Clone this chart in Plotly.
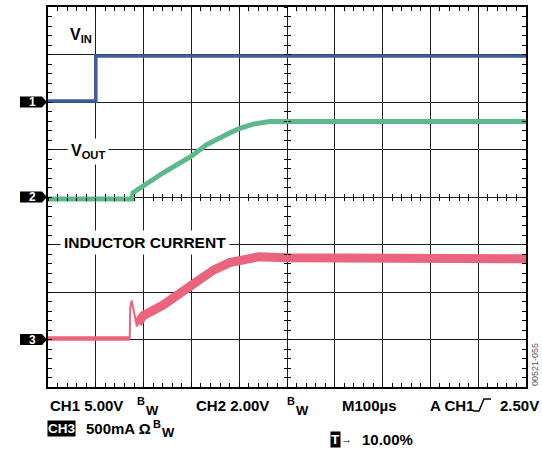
import plotly.graph_objects as go

# scope settings: 100 us/div, trigger at 10 % -> t = 0 one division from the left
t_range = [-100, 900]

# CH1, V_IN (5 V/div, ground marker at division 6)
t_vin = [-100, 0, 0, 900]
v_vin = [0.1, 0.1, 4.85, 4.85]

# CH2, V_OUT (2 V/div, ground marker at division 4)
t_vout = [-100, 75, 78, 99, 141, 200, 232, 280, 300, 329, 364, 900]
v_vout = [-0.08, -0.08, 0.18, 0.46, 1.02, 1.72, 2.21, 2.69, 2.88, 3.07, 3.18, 3.18]

# CH3, inductor current (500 mA/div, ground marker at division 1)
t_il_base = [-100, 71]
i_il_base = [0.01, 0.01]
t_il_spike = [71, 72, 75, 86, 90]
i_il_spike = [0.01, 0.33, 0.41, 0.14, 0.18]
t_il_ramp = [88, 99, 140, 197, 246, 280, 310, 340, 400, 900]
i_il_ramp = [0.17, 0.25, 0.36, 0.56, 0.73, 0.81, 0.85, 0.87, 0.86, 0.85]

BLUE = "#3c5e9c"
GREEN = "#5db98c"
RED = "#e9647c"
FONT = "Liberation Sans, Arial, sans-serif"
PLOT_W, PLOT_H = 478, 382  # graticule size in px

fig = go.Figure()
fig.add_trace(go.Scatter(x=t_vin, y=v_vin, mode="lines", xaxis="x", yaxis="y2",
                         line=dict(color=BLUE, width=3.5), hoverinfo="skip"))
fig.add_trace(go.Scatter(x=t_vout, y=v_vout, mode="lines", xaxis="x2", yaxis="y3",
                         line=dict(color=GREEN, width=5), hoverinfo="skip"))
fig.add_trace(go.Scatter(x=t_il_base, y=i_il_base, mode="lines", xaxis="x3", yaxis="y4",
                         line=dict(color=RED, width=4.5), hoverinfo="skip"))
fig.add_trace(go.Scatter(x=t_il_spike, y=i_il_spike, mode="lines", xaxis="x3", yaxis="y4",
                         line=dict(color=RED, width=2), hoverinfo="skip"))
fig.add_trace(go.Scatter(x=t_il_ramp, y=i_il_ramp, mode="lines", xaxis="x3", yaxis="y4",
                         line=dict(color=RED, width=9), hoverinfo="skip"))

grid = dict(showgrid=True, gridcolor="#1e1e1e", gridwidth=1.3, zeroline=False,
            showline=True, linecolor="black", linewidth=2, mirror="allticks",
            ticks="inside", ticklen=4, tickcolor="black", tickwidth=1.2,
            showticklabels=False, fixedrange=True)
center = dict(showgrid=False, zeroline=False, showline=False, showticklabels=False,
              anchor="free", position=0.5, ticklen=3, tickcolor="black",
              tickwidth=1.2, fixedrange=True)

ch_ranges = {"y2": [-30, 10], "y3": [-8, 8], "y4": [-0.5, 3.5]}

fig.update_layout(
    width=542, height=450,
    margin=dict(l=48, r=16, t=5, b=63),
    paper_bgcolor="white", plot_bgcolor="white",
    showlegend=False,
    font=dict(family=FONT, color="black"),
    xaxis=dict(range=t_range, tick0=0, dtick=100,
               minor=dict(dtick=20, ticks="inside", ticklen=4, tickcolor="black",
                          tickwidth=1.2, showgrid=False), **grid),
    yaxis=dict(range=[0, 8], tick0=0, dtick=1,
               minor=dict(dtick=0.2, ticks="inside", ticklen=4, tickcolor="black",
                          tickwidth=1.2, showgrid=False), **grid),
    xaxis2=dict(overlaying="x", range=t_range, tick0=0, dtick=20, ticks="outside", **center),
    xaxis3=dict(overlaying="x", range=t_range, tick0=0, dtick=20, ticks="inside", **center),
    yaxis2=dict(overlaying="y", range=ch_ranges["y2"], tick0=0, dtick=1, ticks="outside", **center),
    yaxis3=dict(overlaying="y", range=ch_ranges["y3"], tick0=0, dtick=0.4, ticks="inside", **center),
    yaxis4=dict(overlaying="y", range=ch_ranges["y4"], showgrid=False, zeroline=False,
                showticklabels=False, ticks="", fixedrange=True),
)

# channel ground markers (pentagon pointing at the graticule, at each channel's 0 level)
px_x = 1 / PLOT_W
px_y = 1 / PLOT_H
for ch, yref in (("1", "y2"), ("2", "y3"), ("3", "y4")):
    lo, hi = ch_ranges[yref]
    g = (0 - lo) / (hi - lo)
    top, bot = g + 5.5 * px_y, g - 5.5 * px_y
    fig.add_shape(type="path", xref="paper", yref="paper",
                  path=(f"M{-28 * px_x},{top} L{-6 * px_x},{top} L{-1 * px_x},{g} "
                        f"L{-6 * px_x},{bot} L{-28 * px_x},{bot} Z"),
                  fillcolor="black", line=dict(width=0))
    fig.add_annotation(x=0, y=g, xref="paper", yref="paper", xanchor="center", yanchor="middle",
                       xshift=-16, text="<b>" + ch + "</b>", showarrow=False,
                       font=dict(size=12, color="white", family=FONT))

# trace labels
fig.add_annotation(x=-31, y=7.41, xref="x", yref="y", text="<b>V<sub>IN</sub></b>",
                   showarrow=False, font=dict(size=16))
fig.add_annotation(x=-16, y=4.96, xref="x", yref="y", text="<b>V<sub>OUT</sub></b>",
                   showarrow=False, font=dict(size=16), bgcolor="white", borderpad=3)
fig.add_annotation(x=102, y=3.04, xref="x", yref="y", text="<b>INDUCTOR CURRENT</b>",
                   showarrow=False, font=dict(size=15.5), bgcolor="white", borderpad=3)

# scope readout below the graticule (pixel positions from the plot's lower-left corner)
x0, y0 = 48, 387
readout = [
    ("<b>CH1 5.00V</b>", 48, 405, 15),
    ("<b>B</b>", 135, 401, 11),
    ("<b>W</b>", 144, 410, 13),
    ("<b>CH2 2.00V</b>", 194, 405, 15),
    ("<b>B</b>", 285, 401, 11),
    ("<b>W</b>", 294, 410, 13),
    ("<b>M100µs</b>", 340, 405, 15),
    ("<b>A CH1</b>", 428, 405, 15),
    ("<b>2.50V</b>", 498, 405, 15),
    ("<b>500mA Ω</b>", 84, 428, 15),
    ("<b>B</b>", 151, 424, 11),
    ("<b>W</b>", 160, 432, 13),
    ("<b>→</b>", 339, 439, 11),
    ("<b>10.00%</b>", 360, 439, 15),
]
for txt, px, py, size in readout:
    fig.add_annotation(x=0, y=0, xref="paper", yref="paper", xanchor="left", yanchor="middle",
                       xshift=px - x0, yshift=y0 - py, text=txt, showarrow=False,
                       font=dict(size=size))
for txt, px, py in (("<b>CH3</b>", 47, 428), ("<b>T</b>", 330, 439)):
    fig.add_annotation(x=0, y=0, xref="paper", yref="paper", xanchor="left", yanchor="middle",
                       xshift=px - x0, yshift=y0 - py, text=txt, showarrow=False,
                       font=dict(size=13.5, color="white"), bgcolor="black", borderpad=0)

# trigger edge symbol
fig.add_shape(type="path", xref="paper", yref="paper", xsizemode="pixel", ysizemode="pixel",
              xanchor=0, yanchor=0, path="M425,-24 L431,-24 L436,-12 L443,-12",
              line=dict(color="black", width=1.5))

fig.add_annotation(x=1, y=0.058, xref="paper", yref="paper", xshift=16, yanchor="middle",
                   text="00521-055", textangle=-90, showarrow=False,
                   font=dict(size=9, color="#555"))

fig.write_html("out.html", config={"displayModeBar": False},
               post_script="document.body.style.margin='0';")
